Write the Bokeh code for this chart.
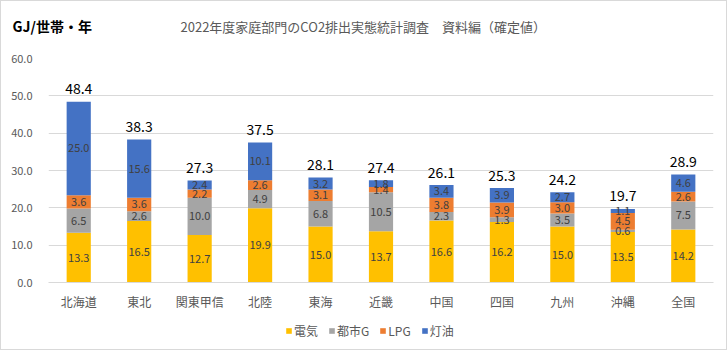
from bokeh.plotting import figure
from bokeh.layouts import column
from bokeh.models import (ColumnDataSource, FactorRange, FixedTicker, NumeralTickFormatter,
                          Label, Legend, LegendItem, LabelSet)
from bokeh.core.properties import value
from bokeh.embed import file_html
from bokeh.resources import INLINE
import numpy as np

regions = ["北海道", "東北", "関東甲信", "北陸", "東海", "近畿", "中国", "四国", "九州", "沖縄", "全国"]
electricity = [13.3, 16.5, 12.7, 19.9, 15.0, 13.7, 16.6, 16.2, 15.0, 13.5, 14.2]
city_gas = [6.5, 2.6, 10.0, 4.9, 6.8, 10.5, 2.3, 1.3, 3.5, 0.6, 7.5]
lpg = [3.6, 3.6, 2.2, 2.6, 3.1, 1.4, 3.8, 3.9, 3.0, 4.5, 2.6]
kerosene = [25.0, 15.6, 2.4, 10.1, 3.2, 1.8, 3.4, 3.9, 2.7, 1.1, 4.6]
totals = [48.4, 38.3, 27.3, 37.5, 28.1, 27.4, 26.1, 25.3, 24.2, 19.7, 28.9]
series_names = ["電気", "都市G", "LPG", "灯油"]
colors = ["#FFC000", "#A5A5A5", "#ED7D31", "#4472C4"]
y_ticks = [0, 10, 20, 30, 40, 50, 60]
title_text = "2022年度家庭部門のCO2排出実態統計調査　資料編（確定値）"
unit_text = "GJ/世帯・年"

FONT = "Noto Sans CJK JP"
keys = ["e", "g", "l", "k"]
series = [electricity, city_gas, lpg, kerosene]


def no_align(fig):
    if "frame_align" in fig.properties():
        fig.frame_align = False


# ---------- header (title + unit) ----------
h = figure(width=725, height=49, x_range=(0, 1), y_range=(0, 1),
           x_axis_location=None, y_axis_location=None, min_border=0,
           min_border_left=0, min_border_right=0, min_border_top=0, min_border_bottom=0,
           output_backend="svg", toolbar_location=None)
h.outline_line_color = None
h.grid.visible = False
no_align(h)
h.add_layout(Label(x=179, y=24, x_units="screen", y_units="screen", text=title_text,
                   text_font=FONT, text_font_size="13px", text_color="#595959",
                   text_baseline="middle"))
h.add_layout(Label(x=11, y=25, x_units="screen", y_units="screen", text=unit_text,
                   text_font=FONT, text_font_size="14px", text_font_style="bold",
                   text_color="#000000", text_baseline="middle"))

# ---------- main chart ----------
data = {"region": regions, "total": totals,
        "total_txt": [f"{t:.1f}" for t in totals]}
for k, s in zip(keys, series):
    data[k] = s

p = figure(x_range=FactorRange(*regions, range_padding=0), y_range=(0, 60),
           width=725, height=265, output_backend="svg", toolbar_location=None,
           min_border_left=47, min_border_right=13, min_border_top=8, min_border_bottom=33)
p.outline_line_color = None
no_align(p)

src = ColumnDataSource(data)
rs = p.vbar_stack(keys, x="region", width=0.4, source=src, color=colors, line_color=None)

bottom = np.zeros(len(regions))
for k, s in zip(keys, series):
    arr = np.array(s)
    mid = bottom + arr / 2
    lsrc = ColumnDataSource({"region": regions, "y": mid, "txt": [f"{v:.1f}" for v in arr]})
    p.text(x="region", y="y", text="txt", source=lsrc, text_align="center",
           text_baseline="middle", text_font=value(FONT), text_font_size="11px",
           text_color="#404040")
    bottom = bottom + arr

p.add_layout(LabelSet(x="region", y="total", text="total_txt", source=src,
                      text_align="center", text_baseline="middle", y_offset=13,
                      text_font=value(FONT), text_font_size="14px", text_color="#000000"))

p.yaxis.ticker = FixedTicker(ticks=y_ticks)
p.yaxis.formatter = NumeralTickFormatter(format="0.0")
p.yaxis.axis_line_color = None
p.yaxis.major_tick_line_color = None
p.yaxis.minor_tick_line_color = None
p.yaxis.major_label_text_font = FONT
p.yaxis.major_label_text_font_size = "11px"
p.yaxis.major_label_text_color = "#595959"
p.yaxis.major_label_standoff = 10

p.xaxis.axis_line_color = "#D9D9D9"
p.xaxis.major_tick_line_color = None
p.xaxis.minor_tick_line_color = None
p.xaxis.major_label_text_font = FONT
p.xaxis.major_label_text_font_size = "12px"
p.xaxis.major_label_text_color = "#595959"
p.xaxis.major_label_standoff = 4

p.xgrid.grid_line_color = None
p.ygrid.grid_line_color = "#D9D9D9"
p.ygrid.ticker = FixedTicker(ticks=y_ticks)

# ---------- footer (legend) ----------
f = figure(width=725, height=34, x_range=(0, 1), y_range=(0, 1),
           x_axis_location=None, y_axis_location=None, min_border=0,
           min_border_left=0, min_border_right=0, min_border_top=0, min_border_bottom=0,
           output_backend="svg", toolbar_location=None)
f.outline_line_color = None
f.grid.visible = False
no_align(f)
items = []
for n, c in zip(series_names, colors):
    proxy = ColumnDataSource({"l": [np.nan], "r": [np.nan], "t": [np.nan], "b": [np.nan]})
    r = f.quad(left="l", right="r", top="t", bottom="b", source=proxy,
               fill_color=c, line_color=None)
    items.append(LegendItem(label=n, renderers=[r]))
legend = Legend(items=items, orientation="horizontal", location=(284, 10),
                label_text_font=FONT, label_text_font_size="12px", label_text_color="#595959",
                glyph_width=7, glyph_height=7, label_height=17, spacing=10, padding=0, margin=0,
                label_standoff=2, border_line_color=None, background_fill_alpha=0)
f.add_layout(legend, "center")

layout = column(h, p, f, spacing=0, styles={"border": "1px solid #D9D9D9"})
open("out.html", "w").write(file_html(layout, INLINE))
